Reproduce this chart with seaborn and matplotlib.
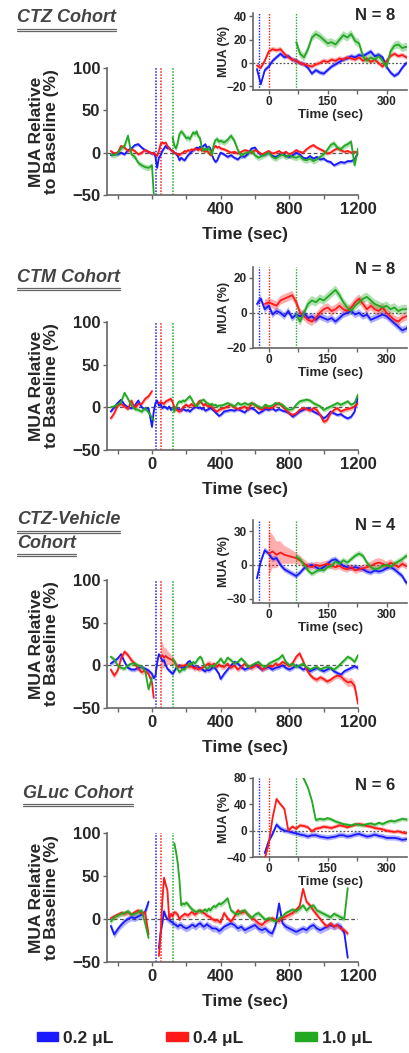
import numpy as np
import pandas as pd
import seaborn as sns
import matplotlib.pyplot as plt
from matplotlib.lines import Line2D
from matplotlib.patches import Patch

na = np.nan

# sampling times (sec), shared by every trace
time_s = [-240, -220, -200, -180, -160, -140, -120, -100, -80, -60, -40, -20, 0,
          10, 20, 30, 40, 50, 60, 70, 80, 90, 100, 110, 120, 130, 140, 150, 160, 170, 180, 190, 200,
          210, 220, 230, 240, 250, 260, 270, 280, 290, 300, 310, 320, 330, 340, 350, 360, 370, 380, 390, 400,
          420, 440, 460, 480, 500, 520, 540, 560, 580, 600, 620, 640, 660, 680, 700, 720, 740, 760, 780, 800,
          820, 840, 860, 880, 900, 920, 940, 960, 980, 1000, 1020, 1040, 1060, 1080, 1100, 1120, 1140, 1160, 1180, 1200]

doses = ['0.2 \u03bcL', '0.4 \u03bcL', '1.0 \u03bcL']
inject_s = [25, 50, 120]

# CTZ cohort (N = 8)
ctz_blue = [-3, -1, -2, 0, -2, 3, 5, 9, 10, 6, 3, 1, -1,
            0, -5, -18, -6, -3, 2, 5, 8, 5, 6, 3, 2, 0, -1, -4, -9, -6, -8, -9, -6,
            -3, -1, 1, 3, 4, 6, 5, 7, 6, 8, 10, 6, 7, 5, -3, -8, -11, -9, -4, 0,
            -2, -5, -3, -6, -8, -4, -5, -1, 5, 6, 0, -3, -2, 0, -4, -5, -3, -1, -4, -5,
            -3, 0, -2, -6, -7, -4, -7, -5, -8, -7, -10, -11, -15, -13, -11, -12, -10, -10, -8, 0]
ctz_red = [2, -1, 0, 8, 6, 2, 4, 2, -2, 0, 3, 1, -1,
           0, -2, -4, 2, 10, 12, 11, 12, 8, 5, 3, 2, 0, -1, -2, -3, -1, 0, 2, 1,
           3, 2, 4, 3, 5, 4, 3, 5, 2, 4, 1, 3, 0, -3, 2, 6, 8, 6, 7, 5,
           4, 2, 0, 1, -1, 1, 3, 2, 0, 3, 1, -2, 0, 2, -1, 0, 2, -1, 1, -2,
           0, 3, 1, 0, 4, 7, 9, 6, 4, 2, -1, 0, 3, 5, 3, 1, 2, 0, 1, 0]
ctz_green = [-2, -3, -1, 5, 8, 20, -2, -5, -12, -15, -17, -18, -15,
             -48, na, na, na, na, na, na, na, na, na, na, 18, 8, 5, 12, 22, 25, 23, 20, 17,
             18, 16, 20, 24, 22, 25, 19, 17, 6, 2, 5, 3, 6, 2, -3, 10, 15, 16, 13, 14,
             12, 15, 20, 14, 3, -4, -1, 0, 2, -3, -6, -4, -2, 0, -5, -7, -4, -2, -5, -3,
             -5, -6, -4, -8, -9, -7, -10, -8, -5, -2, 3, 9, 11, 6, 4, 8, 10, 13, -15, 5]

# CTM cohort (N = 8)
ctm_blue = [-5, 0, 5, 9, 3, 0, -1, 2, 8, 0, -2, -1, -23,
            -5, 5, 8, 2, 4, -1, 1, 0, -2, 1, -3, -1, -2, 0, -3, -2, -4, -2, -3, -4,
            -3, -5, -3, -1, 0, 1, -1, 0, -2, -1, -4, -3, -2, -1, -2, -4, -6, -8, -10, -9,
            -5, -4, -3, -4, -2, -4, -6, -2, -1, -3, -7, -5, -2, -3, -1, -4, -2, -4, -5, -7,
            -11, -8, -5, -3, -1, -2, -5, -7, -9, -13, -10, -5, -7, -9, -8, -11, -13, -11, -5, 12]
ctm_red = [-13, -7, 2, 4, 1, -2, 8, -1, 4, 4, 10, 13, 19,
           na, na, na, 5, 6, 5, 4, 7, 8, 9, 10, 6, 0, -2, -4, -5, -3, 0, 2, 3,
           1, 2, 4, 2, 1, 3, 6, 8, 5, 2, 4, 2, 1, 3, 0, -2, -4, -5, -3, -2,
           -1, 1, 3, 0, -2, -1, 1, -3, 5, 3, -1, -3, 0, -1, -1, 3, 5, 1, -3, -7,
           -9, -7, -3, -1, -2, -4, -1, -3, -9, -17, -15, -7, -3, -1, -5, -3, -2, -1, 1, 5]
ctm_green = [0, 1, 3, 6, 17, 10, 2, -2, -3, -5, -1, -6, -12,
             -15, na, na, na, na, na, na, na, na, na, na, -1, -5, 0, 5, 7, 6, 8, 7, 9,
             11, 13, 10, 6, 3, 1, 4, 6, 8, 9, 7, 5, 4, 3, 4, 2, 3, 1, 2, 2,
             3, 5, 3, 1, 5, 3, 5, 3, 5, 3, 1, -1, 3, 1, 2, 5, 4, 3, -1, -3,
             -2, 3, 7, 8, 9, 8, 5, 3, 1, -3, -1, 1, 3, 5, 3, 5, 7, 3, 5, 15]

# CTZ-Vehicle cohort (N = 4)
veh_blue = [2, 5, 8, 13, 4, -3, -5, -5, -3, -2, -4, -6, -10,
            -15, -12, 3, 13, 10, 5, 6, 0, -4, -6, -8, -10, -7, -3, -1, 0, -2, -4, -2, 1,
            4, 5, 2, -1, -2, -3, -2, -3, -4, -6, -7, -5, -6, -5, -3, -2, -4, -7, -10, -16,
            -10, -5, 0, 4, 2, -2, -5, -3, -2, 2, -2, -5, -3, -2, -5, -3, -2, 0, -3, -5,
            -3, 0, -2, -5, -3, -7, -5, -3, -5, -7, -5, -3, -7, -9, -11, -7, -5, -3, -1, -3]
veh_red = [-5, -12, -6, 8, 16, 12, 6, 2, -4, -8, -6, -10, -20,
           -38, na, na, na, 10, 12, 9, 11, 9, 8, 7, 6, 4, 1, -1, -2, 0, -1, 0, 1,
           -1, -2, -1, -3, -4, -2, -5, -4, -3, -2, -1, 1, 2, 1, -1, 2, 0, -2, 1, -1,
           -2, 2, -3, 0, -5, -2, 2, -1, -3, -1, 1, -5, -3, 0, -2, 2, 0, 4, 2, -1,
           3, 10, 14, 5, -5, -11, -15, -17, -14, -16, -19, -17, -14, -12, -13, -17, -20, -19, -24, -45]
veh_red_sem = [3, 3, 3, 3, 3, 3, 3, 3, 3, 3, 3, 3, 4,
               4, 4, 4, 4, 20, 15, 12, 10, 8, 7, 6, 5, 4, 4, 3, 3, 3, 3, 3, 3,
               3, 3, 3, 3, 3, 3, 3, 3, 3, 3, 4, 4, 4, 4, 4, 3, 3, 3, 3, 3,
               3, 3, 3, 3, 3, 3, 3, 3, 3, 3, 3, 3, 3, 3, 3, 3, 3, 3, 3, 3,
               3, 3, 3, 3, 3, 3, 3, 3, 3, 3, 3, 3, 3, 3, 4, 4, 5, 5, 5, 5]
veh_green = [10, 7, 0, -3, -4, 0, 2, 2, 0, -2, -6, -28, -14,
             na, na, na, na, na, na, na, na, na, na, na, 7, 5, 0, -5, -8, -6, -4, -5, -2,
             -1, 3, 1, 4, 2, 5, 8, 10, 8, 2, -2, -4, -3, -1, 0, -2, 1, 3, 5, 8,
             2, 9, 6, 2, 4, 8, 4, -2, 0, 2, 4, 0, -2, 2, 4, 6, 8, 12, 4, 0,
             2, -2, 0, 2, -2, -5, -3, -2, -5, -3, -2, -3, -5, -2, 2, 6, 10, 8, 4, 12]

# GLuc cohort (N = 6)
gluc_blue = [-8, -18, -12, -7, -3, 0, 2, 1, 3, 5, 8, 20, na,
             na, na, na, -34, -16, -5, 9, 3, 0, -1, -3, -4, -6, -7, -9, -7, -7, -9, -10, -11,
             -10, -9, -7, -7, -9, -8, -6, -5, -7, -9, -8, -6, -8, -9, -11, -11, -11, -12, -14, -13,
             -9, -7, -5, -7, -11, -9, -13, -11, -9, -7, -11, -13, -11, -15, -17, -7, 18, -5, -9, -11,
             -13, -15, -13, -11, -13, -9, -7, -11, -13, -11, -9, -7, -9, -7, -9, -16, -45, na, na, na]
gluc_red = [1, 3, 5, 7, 6, 8, 5, 8, 10, 6, 8, -18, na,
            na, na, na, -43, -20, 20, 48, 40, 33, 0, 6, 3, 8, 7, 5, -1, 3, 4, 6, 5,
            4, 6, 8, 7, 5, 7, 9, 10, 9, 7, 6, 4, 3, 2, 0, -1, -2, -1, -3, -4,
            7, 1, -3, 3, 10, 7, 9, 5, 1, -1, -5, -7, -3, -1, 1, -1, -3, 1, 3, 5,
            7, 11, 15, 35, 20, 16, 10, 5, 0, -5, -9, -5, -9, -7, -11, -13, -17, na, na, na]
gluc_green = [-3, 2, 4, 6, 7, 9, 5, 6, 8, 10, -5, -22, na,
              na, na, na, na, na, na, na, na, na, na, na, na, 88, 78, 65, 45, 16, 18, 17, 19,
              17, 14, 12, 10, 9, 8, 10, 9, 8, 10, 11, 9, 12, 10, 13, 15, 14, 16, 18, 17,
              20, 24, 10, 7, 5, 9, 10, 5, 1, 5, 7, 3, -1, 1, -1, -3, 1, 3, 7, 9,
              11, 9, 12, 16, 10, 14, 16, 10, 8, 6, 4, 2, 6, 4, 2, 0, 36, na, na, na]

colors = ['#1a1aff', '#ff1a1a', '#22a822']

sns.set_style('ticks')
plt.rcParams['font.family'] = ['Liberation Sans', 'DejaVu Sans']
plt.rcParams['font.weight'] = 'bold'
plt.rcParams['axes.labelweight'] = 'bold'

W, H = 409, 1053
fig = plt.figure(figsize=(W / 100, H / 100), dpi=100)


def box(l, t, r, b):
    return [l / W, 1 - b / H, (r - l) / W, (b - t) / H]


def draw_trace(ax, v, sem, color, shift=0, tmin=None):
    df = pd.DataFrame({'t': np.array(time_s, float) - shift, 'v': v, 'sem': sem})
    if tmin is not None:
        df = df[df['t'] >= tmin - shift]
    df['seg'] = df['v'].isna().cumsum()
    df = df.dropna()
    for _, g in df.groupby('seg'):
        ax.fill_between(g['t'], g['v'] - g['sem'], g['v'] + g['sem'],
                        color=color, alpha=0.35, lw=0, zorder=2)
    sns.lineplot(data=df, x='t', y='v', units='seg', estimator=None, sort=True,
                 color=color, lw=1.3, ax=ax, legend=False, zorder=3)


def style_axis(ax, fs, pad=2):
    for s in ['top', 'right']:
        ax.spines[s].set_visible(False)
    for s in ['left', 'bottom']:
        ax.spines[s].set_color('#666666')
        ax.spines[s].set_linewidth(1.2)
    ax.tick_params(which='both', direction='out', length=3, width=1, color='#666666',
                   labelsize=fs, pad=pad)
    for lab in ax.get_xticklabels() + ax.get_yticklabels():
        lab.set_fontweight('bold')


panels = [
    dict(title=['CTZ Cohort'], title_y=[18], title_x=17, n='N = 8', n_y=15,
         main=(107, 68, 358, 195), inset=(253, 13, 407, 90),
         in_ylim=(-23, 43), in_yticks=[-20, 0, 20, 40], zero_label=False,
         series=[ctz_blue, ctz_red, ctz_green], sem=[2, 2, 3.5]),
    dict(title=['CTM Cohort'], title_y=[277], title_x=17, n='N = 8', n_y=270,
         main=(107, 322, 358, 450), inset=(253, 267, 407, 348),
         in_ylim=(-20, 26), in_yticks=[-20, 0, 20], zero_label=True,
         series=[ctm_blue, ctm_red, ctm_green], sem=[2, 2.5, 2.5]),
    dict(title=['CTZ-Vehicle', 'Cohort'], title_y=[520, 543], title_x=17, n='N = 4', n_y=525,
         main=(107, 580, 358, 708), inset=(253, 520, 407, 603),
         in_ylim=(-34, 40), in_yticks=[-30, 0, 30], zero_label=True,
         series=[veh_blue, veh_red, veh_green], sem=[2.5, veh_red_sem, 2.5]),
    dict(title=['GLuc Cohort'], title_y=[793], title_x=23, n='N = 6', n_y=785,
         main=(107, 833, 358, 962), inset=(253, 778, 407, 857),
         in_ylim=(-40, 80), in_yticks=[-40, 0, 40, 80], zero_label=True,
         series=[gluc_blue, gluc_red, gluc_green], sem=[4, 3, 3]),
]

title_texts = []
for p in panels:
    # main axes
    ax = fig.add_axes(box(*p['main']))
    ax.axhline(0, color='#555555', lw=0.9, ls=(0, (3, 2)), zorder=1)
    for x, c in zip(inject_s, colors):
        ax.axvline(x, color=c, lw=1.1, ls=(0, (1, 1)), zorder=1)
    for v, s, c in zip(p['series'], p['sem'], colors):
        draw_trace(ax, v, s, c)
    ax.set_xlim(-262, 1200)
    ax.set_ylim(-50, 100)
    ax.set_xticks([0, 400, 800, 1200])
    ax.set_xticks([-200, 200, 600, 1000], minor=True)
    ax.set_xticklabels(['0' if p['zero_label'] else '', '400', '800', '1200'])
    ax.set_yticks([-50, 0, 50, 100])
    style_axis(ax, 12)
    ax.set_xlabel('Time (sec)', fontsize=12.5, fontweight='bold')
    ax.xaxis.set_label_coords(0.55, -0.25)
    ax.set_ylabel('MUA Relative\nto Baseline (%)', fontsize=12.5, fontweight='bold',
                  linespacing=1.0)
    ax.yaxis.set_label_coords(-0.19, 0.5)

    # inset: time relative to the 0.4 uL injection
    ins = fig.add_axes(box(*p['inset']))
    ins.set_facecolor('white')
    ins.axhline(0, color='#555555', lw=0.9, ls=(0, (1.5, 1.5)), zorder=1)
    for x, c in zip(inject_s, colors):
        ins.axvline(x - inject_s[1], color=c, lw=1.0, ls=(0, (1, 1)), zorder=1)
    for v, s, c in zip(p['series'], p['sem'], colors):
        draw_trace(ins, v, s, c, shift=inject_s[1], tmin=20)
    ins.set_xlim(-40, 352)
    ins.set_ylim(*p['in_ylim'])
    ins.set_xticks([0, 150, 300])
    ins.set_xticks([75, 225], minor=True)
    ins.set_yticks(p['in_yticks'])
    style_axis(ins, 8.5, pad=1.5)
    in_h = p['inset'][3] - p['inset'][1]
    ins.set_xlabel('Time (sec)', fontsize=9.5, fontweight='bold')
    ins.xaxis.set_label_coords(0.5, -19 / in_h)
    ins.set_ylabel('MUA (%)', fontsize=9, fontweight='bold')
    ins.yaxis.set_label_coords(-0.15, 0.5)

    fig.text(375 / W, 1 - p['n_y'] / H, p['n'], ha='center', va='center',
             fontsize=12, fontweight='bold')
    for line, y in zip(p['title'], p['title_y']):
        t = fig.text(p['title_x'] / W, 1 - y / H, line, ha='left', va='center',
                     fontsize=13, fontweight='bold', style='italic', color='#444444')
        title_texts.append((t, y))

# underline the cohort titles
fig.canvas.draw()
r = fig.canvas.get_renderer()
for t, y in title_texts:
    bb = t.get_window_extent(r)
    for dy in (10.5, 12.5):
        fig.add_artist(Line2D([bb.x0 / W, bb.x1 / W], [1 - (y + dy) / H] * 2,
                              transform=fig.transFigure, color='#666666', lw=0.9))

handles = [Patch(facecolor=c, edgecolor=c, label=d) for c, d in zip(colors, doses)]
fig.legend(handles=handles, loc='center', bbox_to_anchor=(0.5, 1 - 1038 / H), ncol=3,
           frameon=False, handlelength=1.25, handleheight=0.45,
           handletextpad=0.3, columnspacing=3.0, prop={'weight': 'bold', 'size': 12.5})

fig.savefig('out.png', dpi=100)
